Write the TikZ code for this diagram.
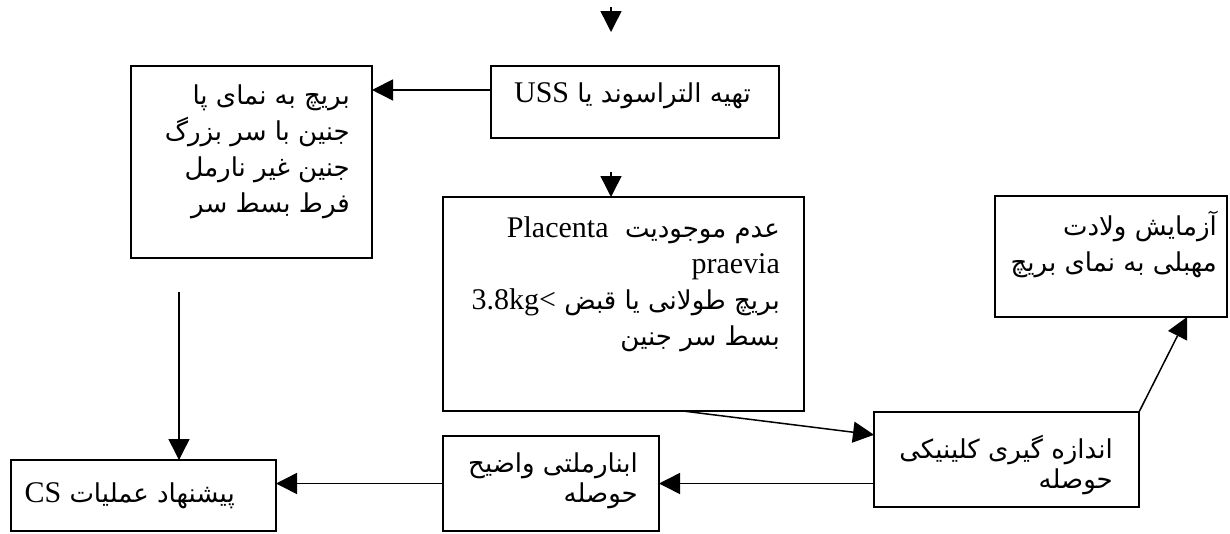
\documentclass[tikz,border=0pt]{standalone}
\usepackage{fontspec}
\setmainfont{Liberation Serif}
\newfontfamily\fa[Script=Arabic]{DejaVu Sans}
\TeXXeTstate=1
\usetikzlibrary{arrows.meta,calc}
\newcommand\lat[1]{\beginL{\rmfamily\fontsize{30}{36}\selectfont #1}\endL}
\begin{document}
\begin{tikzpicture}[x=1pt,y=-1pt,
  box/.style={draw,line width=1.5pt,inner sep=0pt,outer sep=0pt,anchor=north west},
  txt/.style={inner sep=0pt,align=right,font=\fa\fontsize{26}{36}\selectfont},
  arr/.style={line width=1.5pt,-{Triangle[width=21pt,length=21pt]}}]
\useasboundingbox (0,0) rectangle (1230,533);
% boxes
\node[box,minimum width=288pt,minimum height=72pt] (uss) at (491,66) {};
\node[box,minimum width=241pt,minimum height=192pt] (breech) at (131,66) {};
\node[box,minimum width=361pt,minimum height=214pt] (mid) at (443,197) {};
\node[box,minimum width=232pt,minimum height=121pt] (vag) at (995,196) {};
\node[box,minimum width=265pt,minimum height=95pt] (clin) at (874,412) {};
\node[box,minimum width=216pt,minimum height=95pt] (abn) at (443,436) {};
\node[box,minimum width=265pt,minimum height=71pt] (cs) at (11,460) {};
% texts
\node[txt,anchor=east] (t1) at (751,96) {\beginR تهیه التراسوند یا \lat{USS}\endR};
\node[txt,anchor=north east] (t2) at (350,85) {\beginR بریچ به نمای پا\endR\\\beginR جنین با سر بزرگ\endR\\\beginR جنین غیر نارمل\endR\\\beginR فرط بسط سر\endR};
\node[txt,anchor=north east] (t3) at (780,216) {\beginR عدم موجودیت \ \lat{Placenta}\endR\\\lat{praevia}\\\beginR بریچ طولانی یا قبض \lat{3.8kg<}\endR\\\beginR بسط سر جنین\endR};
\node[txt,anchor=north east] (t4) at (1217,211) {\beginR آزمایش ولادت\endR\\\beginR مهبلی به نمای بریچ\endR};
\node[txt,anchor=north east,font=\fa\fontsize{26}{30}\selectfont] (t5) at (1113,435) {\beginR اندازه گیری کلینیکی\endR\\\beginR حوصله\endR};
\node[txt,anchor=north east,font=\fa\fontsize{26}{30}\selectfont] (t6) at (638,453) {\beginR ابنارملتی واضیح\endR\\\beginR حوصله\endR};
\node[txt,anchor=east] (t7) at (235,496) {\beginR پیشنهاد عملیات \lat{CS}\endR};
% connectors
\coordinate (a0) at (611,7);
\coordinate (a1) at (611,32);
\draw[arr] (a0) -- (a1);
\coordinate (ussL) at ($(uss.north west)!0.333!(uss.south west)$);
\draw[arr] (ussL) -- (ussL -| breech.east);
\coordinate (a2) at (611,172);
\draw[arr] (a2) -- (a2 |- mid.north);
\coordinate (a3) at (179,292);
\draw[arr] (a3) -- (a3 |- cs.north);
\coordinate (midB) at (683,411);
\coordinate (clinL) at ($(clin.north west)!0.24!(clin.south west)$);
\draw[arr] (midB) -- (clinL);
\draw[arr] (clin.west |- abn.east) -- (abn.east);
\draw[arr] (abn.west) -- (abn.west -| cs.east);
\coordinate (vagB) at (1187,317);
\draw[arr] (clin.north east) -- (vagB);
\end{tikzpicture}
\end{document}
